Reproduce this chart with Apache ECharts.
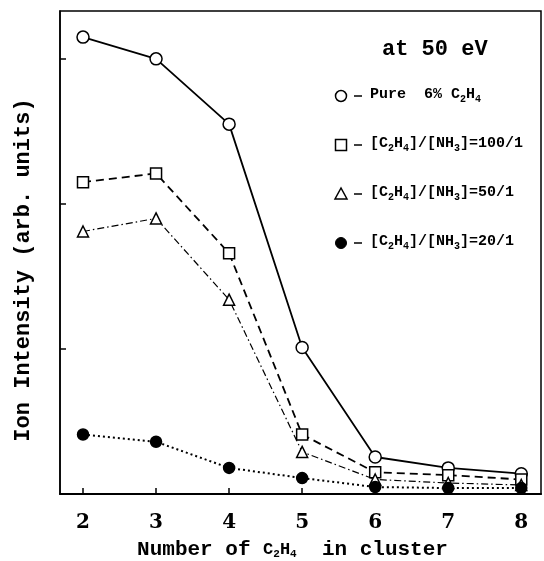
<!DOCTYPE html>
<html><head><meta charset="utf-8">
<script src="https://cdn.jsdelivr.net/npm/echarts@6/dist/echarts.min.js"></script>
<style>html,body{margin:0;padding:0;background:#fff}#c{width:544px;height:561px}</style>
</head><body><div id="c"></div>
<script>
const clusterSizes = [2, 3, 4, 5, 6, 7, 8];
const pureC2H4 = [3.15, 3.0, 2.55, 1.01, 0.255, 0.18, 0.14];
const ratio100 = [2.15, 2.21, 1.66, 0.41, 0.15, 0.13, 0.10];
const ratio50 = [1.81, 1.90, 1.34, 0.29, 0.10, 0.076, 0.062];
const ratio20 = [0.41, 0.36, 0.18, 0.11, 0.048, 0.041, 0.041];
const xTicks = [2, 3, 4, 5, 6, 7, 8];
const yTicks = [1, 2, 3];

const SERIF = 'DejaVu Serif';
const MONO = 'Liberation Mono';
const pair = arr => clusterSizes.map((x, i) => [x, arr[i]]);

const chart = echarts.init(document.getElementById('c'));
const mk = (name, data, symbol, size, filled, lineType, width) => ({
  name, type: 'line', data: pair(data), symbol, symbolSize: size,
  showAllSymbol: true, animation: false, z: 3,
  itemStyle: { color: filled ? '#000' : '#fff', borderColor: '#000', borderWidth: 1.5 },
  lineStyle: { color: '#000', width: width, type: lineType }
});

const subRich = {
  b: { fontFamily: MONO, fontWeight: 'bold', fontSize: 15, color: '#000' },
  sub: { fontFamily: MONO, fontWeight: 'bold', fontSize: 10, color: '#000', verticalAlign: 'bottom', padding: [9, 0, 0, 0] }
};
const legendItems = [
  { text: '{b|Pure  6% C}{sub|2}{b|H}{sub|4}', y: 96, sym: 'circle' },
  { text: '{b|[C}{sub|2}{b|H}{sub|4}{b|]/[NH}{sub|3}{b|]=100/1}', y: 145, sym: 'square' },
  { text: '{b|[C}{sub|2}{b|H}{sub|4}{b|]/[NH}{sub|3}{b|]=50/1}', y: 194, sym: 'triangle' },
  { text: '{b|[C}{sub|2}{b|H}{sub|4}{b|]/[NH}{sub|3}{b|]=20/1}', y: 243, sym: 'dot' }
];
const graphics = [
  { type: 'text', left: 382, top: 38, style: { text: 'at 50 eV', fontFamily: MONO, fontWeight: 'bold', fontSize: 22, fill: '#000' } },
  { type: 'text', x: 23, y: 270, rotation: Math.PI / 2,
    style: { text: 'Ion Intensity (arb. units)', fontFamily: MONO, fontWeight: 'bold', fontSize: 22, fill: '#000', align: 'center', verticalAlign: 'middle' } }
];
legendItems.forEach(it => {
  const cx = 341, cy = it.y;
  if (it.sym === 'circle') graphics.push({ type: 'circle', shape: { cx, cy, r: 5.5 }, style: { fill: '#fff', stroke: '#000', lineWidth: 1.5 } });
  if (it.sym === 'dot') graphics.push({ type: 'circle', shape: { cx, cy, r: 5.5 }, style: { fill: '#000', stroke: '#000', lineWidth: 1 } });
  if (it.sym === 'square') graphics.push({ type: 'rect', shape: { x: cx - 5.5, y: cy - 5.5, width: 11, height: 11 }, style: { fill: '#fff', stroke: '#000', lineWidth: 1.5 } });
  if (it.sym === 'triangle') graphics.push({ type: 'polygon', shape: { points: [[cx, cy - 6], [cx - 6, cy + 5], [cx + 6, cy + 5]] }, style: { fill: '#fff', stroke: '#000', lineWidth: 1.5 } });
  graphics.push({ type: 'line', shape: { x1: 354, y1: cy, x2: 362, y2: cy }, style: { stroke: '#000', lineWidth: 1.5 } });
  graphics.push({ type: 'text', left: 370, top: cy - 9, style: { text: it.text, rich: subRich, fill: '#000' } });
});

chart.setOption({
  backgroundColor: '#fff',
  animation: false,
  grid: { left: 60, right: 3, top: 11, bottom: 67, show: true, borderColor: '#000', borderWidth: 1.5,
          backgroundColor: 'transparent', containLabel: false, outerBoundsMode: 'none' },
  xAxis: {
    type: 'value', min: 1.685, max: 8.27,
    axisLine: { show: true, lineStyle: { color: '#000', width: 2 } },
    axisTick: { show: true, inside: true, length: 6, customValues: xTicks, lineStyle: { color: '#000', width: 1.5 } },
    axisLabel: { customValues: xTicks, margin: 19, fontFamily: SERIF, fontWeight: 'bold', fontSize: 20, color: '#000' },
    splitLine: { show: false },
    name: '{n|Number of }{s|C}{sub|2}{s|H}{sub|4}{n|  in cluster}',
    nameLocation: 'middle', nameGap: 45,
    nameTextStyle: {
      padding: [0, 16, 0, 0],
      rich: {
        n: { fontFamily: MONO, fontWeight: 'bold', fontSize: 21, color: '#000' },
        s: { fontFamily: MONO, fontWeight: 'bold', fontSize: 17, color: '#000' },
        sub: { fontFamily: MONO, fontWeight: 'bold', fontSize: 11, color: '#000', verticalAlign: 'bottom', padding: [10, 0, 0, 0] }
      }
    }
  },
  yAxis: {
    type: 'value', min: 0, max: 3.33, interval: 1,
    axisLine: { show: true, lineStyle: { color: '#000', width: 1.5 } },
    axisTick: { show: true, inside: true, length: 6, customValues: yTicks, lineStyle: { color: '#000', width: 1.5 } },
    axisLabel: { show: false },
    splitLine: { show: false }
  },
  series: [
    mk('Pure 6% C2H4', pureC2H4, 'circle', 12, false, 'solid', 1.8),
    mk('[C2H4]/[NH3]=100/1', ratio100, 'rect', 11, false, [8, 5], 1.8),
    mk('[C2H4]/[NH3]=50/1', ratio50, 'triangle', 11, false, [7, 3, 1.5, 3], 1.2),
    mk('[C2H4]/[NH3]=20/1', ratio20, 'circle', 11, true, [2, 3], 2)
  ],
  graphic: graphics
});
</script></body></html>
